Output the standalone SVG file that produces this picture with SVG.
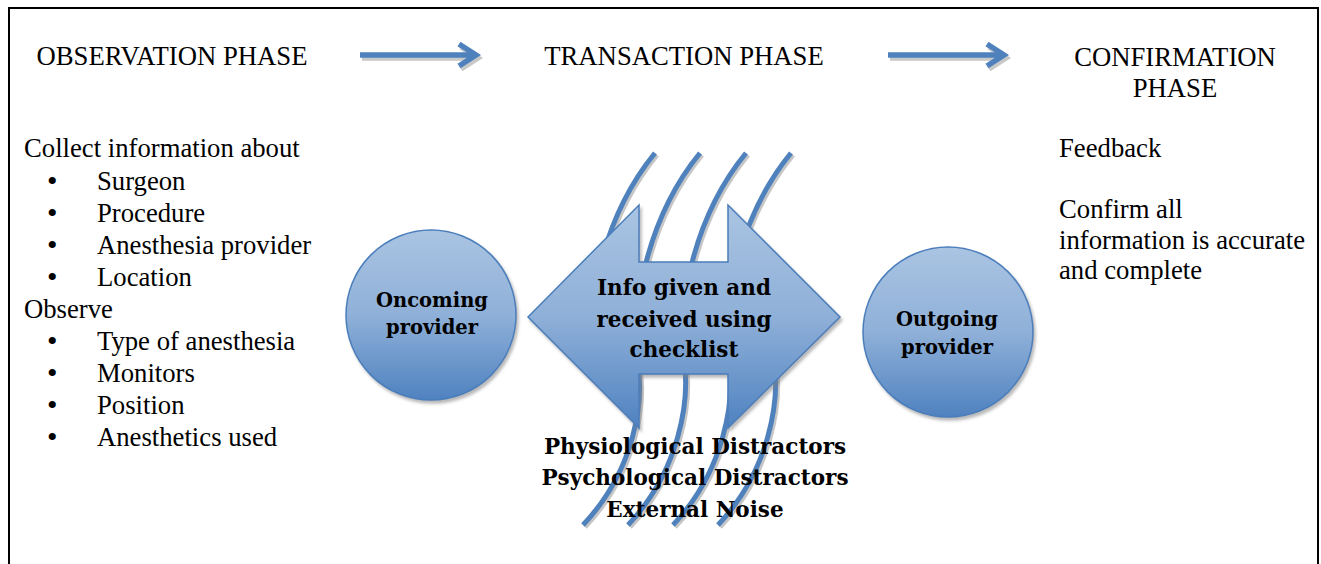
<svg xmlns="http://www.w3.org/2000/svg" width="1321" height="564" viewBox="0 0 1321 564">
<defs>
<linearGradient id="gBlue" x1="0" y1="0" x2="0" y2="1">
<stop offset="0" stop-color="#aac4e2"/>
<stop offset="0.5" stop-color="#8fb0d8"/>
<stop offset="1" stop-color="#4f82c0"/>
</linearGradient>
<filter id="shadow" x="-20%" y="-20%" width="140%" height="140%">
<feDropShadow dx="2" dy="3" stdDeviation="1.5" flood-color="#7f7f7f" flood-opacity="0.55"/>
</filter>
<style>
.t{font-family:"Liberation Serif","Times New Roman",serif;font-size:26.7px;fill:#000}
.bul{font-family:"Liberation Serif","Times New Roman",serif;font-size:30px;fill:#000}
.b{font-family:"DejaVu Serif",serif;font-weight:bold;fill:#000}
.wave{fill:none;stroke:#4f81bd;stroke-width:5}
.waveSh{fill:none;stroke:#c6c6c6;stroke-width:5}
.conn{fill:none;stroke:#4f81bd;stroke-width:5.5}
.connSh{fill:none;stroke:#c8c8c8;stroke-width:5.5}
.shape{fill:url(#gBlue);stroke:#4a7ebb;stroke-width:1.5}
</style>
</defs>
<rect x="0" y="0" width="1321" height="564" fill="#fff"/>
<rect x="9" y="8" width="1309" height="600" fill="none" stroke="#000" stroke-width="2"/>

<g id="phase-labels">
<text class="t" x="172" y="65" text-anchor="middle">OBSERVATION PHASE</text>
<text class="t" x="684" y="65" text-anchor="middle">TRANSACTION PHASE</text>
<text class="t" x="1175" y="66" text-anchor="middle">CONFIRMATION</text>
<text class="t" x="1175" y="97" text-anchor="middle">PHASE</text>
</g>

<g id="connectors">
<path class="connSh" d="M362,58 H476 M461,47 L478,58 L461,69"/>
<path class="conn" d="M360,55 H474 M459,44 L476,55 L459,66"/>
<path class="connSh" d="M890,58 H1004 M989,47 L1006,58 L989,69"/>
<path class="conn" d="M888,55 H1002 M987,44 L1004,55 L987,66"/>
</g>

<g id="observation-list">
<text class="t" x="24" y="157">Collect information about</text>
<text class="bul" x="47" y="191">•</text><text class="t" x="97" y="190">Surgeon</text>
<text class="bul" x="47" y="223">•</text><text class="t" x="97" y="222">Procedure</text>
<text class="bul" x="47" y="255">•</text><text class="t" x="97" y="254">Anesthesia provider</text>
<text class="bul" x="47" y="287">•</text><text class="t" x="97" y="286">Location</text>
<text class="t" x="24" y="318">Observe</text>
<text class="bul" x="47" y="351">•</text><text class="t" x="97" y="350">Type of anesthesia</text>
<text class="bul" x="47" y="383">•</text><text class="t" x="97" y="382">Monitors</text>
<text class="bul" x="47" y="415">•</text><text class="t" x="97" y="414">Position</text>
<text class="bul" x="47" y="447">•</text><text class="t" x="97" y="446">Anesthetics used</text>
</g>

<g id="confirmation-list">
<text class="t" x="1059" y="157">Feedback</text>
<text class="t" x="1059" y="218">Confirm all</text>
<text class="t" x="1059" y="249">information is accurate</text>
<text class="t" x="1059" y="279">and complete</text>
</g>

<g id="noise-waves">
<g transform="translate(2,2)">
<path class="waveSh" d="M655,153 Q614,203 598,275"/>
<path class="waveSh" d="M700,153 Q659,203 643,275"/>
<path class="waveSh" d="M746,153 Q705,203 689,275"/>
<path class="waveSh" d="M791,153 Q750,203 734,275"/>
<path class="waveSh" d="M637,360 C645,400 635,470 583,525"/>
<path class="waveSh" d="M684,360 C690,400 680,470 628,525"/>
<path class="waveSh" d="M729,360 C735,400 725,470 673,525"/>
<path class="waveSh" d="M774,360 C780,400 770,470 718,525"/>
</g>
<path class="wave" d="M655,153 Q614,203 598,275"/>
<path class="wave" d="M700,153 Q659,203 643,275"/>
<path class="wave" d="M746,153 Q705,203 689,275"/>
<path class="wave" d="M791,153 Q750,203 734,275"/>
<path class="wave" d="M637,360 C645,400 635,470 583,525"/>
<path class="wave" d="M684,360 C690,400 680,470 628,525"/>
<path class="wave" d="M729,360 C735,400 725,470 673,525"/>
<path class="wave" d="M774,360 C780,400 770,470 718,525"/>
</g>

<g id="transaction-arrow">
<path class="shape" filter="url(#shadow)" d="M528,317 L639,205 L639,262 L728,262 L728,205 L840,317 L728,428 L728,374 L639,374 L639,428 Z"/>
<text class="b" font-size="21.5" x="684" y="295" text-anchor="middle">Info given and</text>
<text class="b" font-size="21.5" x="684" y="327" text-anchor="middle">received using</text>
<text class="b" font-size="21.5" x="684" y="357" text-anchor="middle">checklist</text>
</g>

<g id="oncoming-provider">
<circle class="shape" filter="url(#shadow)" cx="431" cy="315" r="85"/>
<text class="b" font-size="19.5" x="432" y="307" text-anchor="middle">Oncoming</text>
<text class="b" font-size="19.5" x="432" y="334" text-anchor="middle">provider</text>
</g>

<g id="outgoing-provider">
<circle class="shape" filter="url(#shadow)" cx="948" cy="332" r="85"/>
<text class="b" font-size="19.5" x="947" y="326" text-anchor="middle">Outgoing</text>
<text class="b" font-size="19.5" x="947" y="354" text-anchor="middle">provider</text>
</g>

<g id="distractors">
<text class="b" font-size="21.5" x="695" y="454" text-anchor="middle">Physiological Distractors</text>
<text class="b" font-size="21.5" x="695" y="485" text-anchor="middle">Psychological Distractors</text>
<text class="b" font-size="21.5" x="695" y="517" text-anchor="middle">External Noise</text>
</g>
</svg>
